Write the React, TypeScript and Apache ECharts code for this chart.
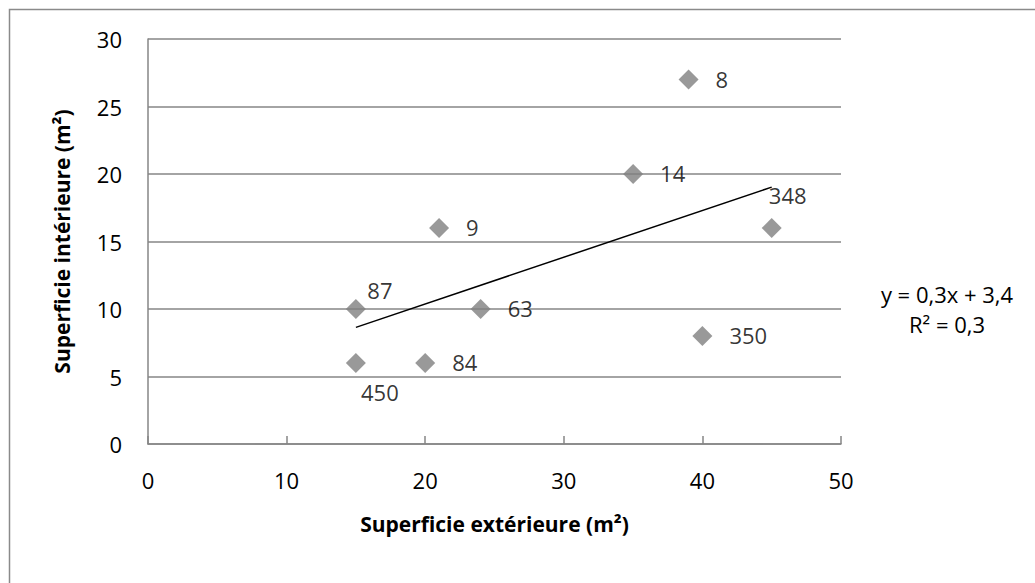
import React, { useEffect, useRef } from "react";
import * as echarts from "echarts";

const pointIds = ["87", "450", "84", "63", "9", "14", "8", "348", "350"];
const exterieur = [15, 15, 20, 24, 21, 35, 39, 45, 40];
const interieur = [10, 6, 6, 10, 16, 20, 27, 16, 8];
const labelPlaces = ["top", "bottom", "right", "right", "right", "right", "right", "top", "right"];
const trendX = [15, 45];
const trendY = [8.64, 19.03];
const equationLines = ["y = 0,3x + 3,4", "R² = 0,3"];
const xTitle = "Superficie extérieure (m²)";
const yTitle = "Superficie intérieure (m²)";

const FONT = "'Open Sans', 'Noto Sans', sans-serif";
const FS = 22;

export default function App() {
  const ref = useRef<HTMLDivElement>(null);
  useEffect(() => {
    const chart = echarts.init(ref.current!, null, { renderer: "svg" });
    const points = exterieur.map((x, i) => {
      const place = labelPlaces[i];
      let offset: number[] = [0, 0];
      if (place === "top") offset = [24, 6];
      if (place === "bottom") offset = [24, 4];
      if (place === "right") offset = [7, -1];
      if (pointIds[i] === "348") offset = [16, -8];
      return {
        value: [x, interieur[i]],
        label: {
          show: true,
          formatter: pointIds[i],
          position: place,
          offset,
          distance: place === "right" ? 10 : 4,
          fontSize: FS,
          fontFamily: FONT,
          color: "#000",
        },
      };
    });
    chart.setOption({
      animation: false,
      backgroundColor: "#fff",
      grid: { left: 148, right: 194, top: 39, bottom: 139, containLabel: false },
      xAxis: {
        type: "value",
        min: 0,
        max: 50,
        interval: 10,
        name: xTitle,
        nameLocation: "middle",
        nameGap: 69,
        nameTextStyle: { fontSize: 21, fontWeight: "bold", fontFamily: FONT, color: "#000" },
        axisLine: { show: true, lineStyle: { color: "#868686", width: 1.5 } },
        axisTick: { show: true, inside: true, length: 8, lineStyle: { color: "#868686", width: 1.5 } },
        axisLabel: { fontSize: FS, fontFamily: FONT, color: "#000", margin: 25 },
        splitLine: { show: false },
      },
      yAxis: {
        type: "value",
        min: 0,
        max: 30,
        interval: 5,
        name: yTitle,
        nameLocation: "middle",
        nameGap: 76,
        nameRotate: 90,
        nameTextStyle: { fontSize: 21, fontWeight: "bold", fontFamily: FONT, color: "#000" },
        axisLine: { show: true, lineStyle: { color: "#868686", width: 1.5 } },
        axisTick: { show: false },
        axisLabel: { fontSize: FS, fontFamily: FONT, color: "#000", margin: 26 },
        splitLine: { show: true, lineStyle: { color: "#868686", width: 1.5 } },
      },
      series: [
        {
          type: "line",
          data: trendX.map((x, i) => [x, trendY[i]]),
          showSymbol: false,
          symbol: "none",
          lineStyle: { color: "#000", width: 1.5 },
          silent: true,
          z: 3,
        },
        {
          type: "scatter",
          data: points,
          symbol: "diamond",
          symbolSize: 20,
          itemStyle: { color: "#808080" },
          z: 4,
        },
      ],
      graphic: [
        {
          type: "rect",
          shape: { x: 9.5, y: 9.5, width: 1100, height: 700 },
          style: { fill: "none", stroke: "#8a8a8a", lineWidth: 1.5 },
          silent: true,
        },
        {
          type: "text",
          x: 947,
          y: 294,
          style: {
            text: equationLines[0],
            font: `${FS}px ${FONT}`,
            fill: "#000",
            textAlign: "center",
            textVerticalAlign: "middle",
          },
        },
        {
          type: "text",
          x: 947,
          y: 324,
          style: {
            text: equationLines[1],
            font: `${FS}px ${FONT}`,
            fill: "#000",
            textAlign: "center",
            textVerticalAlign: "middle",
          },
        },
      ],
    });
    return () => chart.dispose();
  }, []);
  return (
    <div
      ref={ref}
      style={{ position: "fixed", left: 0, top: 0, width: 1035, height: 583, background: "#fff" }}
    />
  );
}
